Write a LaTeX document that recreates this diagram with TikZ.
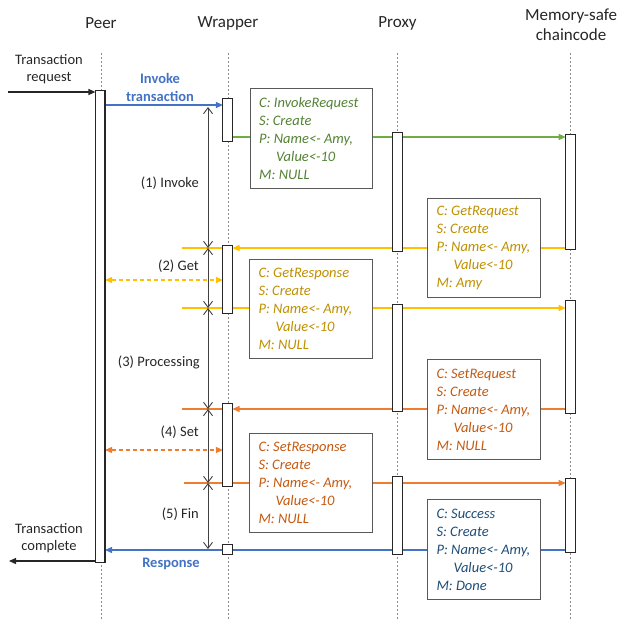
\documentclass[tikz,border=0pt]{standalone}
\usepackage{fontspec}
\setmainfont{Carlito}
\usetikzlibrary{arrows.meta,calc}
\definecolor{grnL}{HTML}{70AD47}
\definecolor{grnT}{HTML}{548235}
\definecolor{yelL}{HTML}{FFC000}
\definecolor{yelT}{HTML}{BF9000}
\definecolor{orL}{HTML}{ED7D31}
\definecolor{orT}{HTML}{C55A11}
\definecolor{bluL}{HTML}{4472C4}
\definecolor{bluT}{HTML}{1F4E79}
\begin{document}
\begin{tikzpicture}[x=1pt,y=-1pt,
  title/.style={font=\fontsize{17}{20}\selectfont, align=center, text=black!85, inner sep=0pt},
  lbl/.style={font=\fontsize{14.5}{17.5}\selectfont, align=center, text=black!85, inner sep=0pt},
  bluelbl/.style={font=\fontsize{14.5}{18}\selectfont\bfseries, align=center, text=bluL, inner sep=0pt},
  bar/.style={rectangle, draw=black!85, fill=white, line width=1.1pt, minimum width=8.5pt, inner sep=0pt},
  msgbox/.style={rectangle, draw=black!65, fill=white, line width=0.9pt, anchor=north west, inner sep=0pt},
  msgtext/.style={font=\fontsize{14.5}{18}\selectfont\itshape, align=left, anchor=west, inner sep=0pt},
  life/.style={draw=black!45, line width=0.6pt, dash pattern=on 2pt off 2pt},
  msg/.style={line width=1.3pt, -{Triangle[length=7pt,width=6pt]}},
  plainmsg/.style={line width=1.3pt},
  dmsg/.style={line width=1.3pt, dash pattern=on 4pt off 3pt, {Triangle[length=7pt,width=6pt]}-{Triangle[length=7pt,width=6pt]}},
  meas/.style={draw=black!75, line width=0.9pt, {Straight Barb[length=6pt,width=9pt]}-{Straight Barb[length=6pt,width=9pt]}}
]
\useasboundingbox (0,0) rectangle (617,620);

% titles
\node[title] (tPeer) at (101,23) {Peer};
\node[title] (tWrap) at (228,23) {Wrapper};
\node[title] (tProxy) at (397.5,23) {Proxy};
\node[title] (tMem) at (571,25) {Memory-safe\\chaincode};

% lifelines
\coordinate (peerTop) at (101,53);  \coordinate (peerBot) at (101,620);
\coordinate (wrapTop) at (228,53);  \coordinate (wrapBot) at (228,620);
\coordinate (proxTop) at (397.5,53); \coordinate (proxBot) at (397.5,620);
\coordinate (memTop) at (570.5,53); \coordinate (memBot) at (570.5,620);
\draw[life] (peerTop) -- (peerBot);
\draw[life] (wrapTop) -- (wrapBot);
\draw[life] (proxTop) -- (proxBot);
\draw[life] (memTop) -- (memBot);

% activation bars (defined first as nodes, drawn over lines later)
\path
  node[bar, minimum height=471pt] (P) at (100.2,326.5) {}
  node[bar, minimum height=42pt] (w1) at (227.7,120) {}
  node[bar, minimum height=67pt] (w2) at (227.7,279.5) {}
  node[bar, minimum height=82pt] (w3) at (227.7,445) {}
  node[bar, minimum height=9pt, minimum width=9pt] (w4) at (227.7,549.5) {}
  node[bar, minimum height=118pt] (x1) at (397.5,192) {}
  node[bar, minimum height=106pt] (x2) at (397.5,358) {}
  node[bar, minimum height=77pt] (x3) at (397.5,515.5) {}
  node[bar, minimum height=114pt] (m1) at (570.5,192) {}
  node[bar, minimum height=112pt] (m2) at (570.5,357) {}
  node[bar, minimum height=73pt] (m3) at (570.5,515.5) {};

% free ends
\coordinate (reqStart) at (8,92);
\coordinate (cmpEnd) at (9,561);
\coordinate (yA) at (182,248);
\coordinate (yB) at (182,308);
\coordinate (oA) at (182,409);
\coordinate (oB) at (184,483);

% messages
\draw[msg, black!85] (reqStart) -- (P.west |- reqStart);
\draw[msg, black!85] (P.west |- cmpEnd) -- (cmpEnd);
\draw[msg, bluL] (P.east |- 0,105) -- (w1.west |- 0,105);
\draw[msg, grnL] (w1.east |- 0,137) -- (m1.west |- 0,137);
\draw[msg, yelL] (m1.west |- yA) -- (w2.east |- yA);
\draw[plainmsg, yelL] (yA) -- (w2.west |- yA);
\draw[dmsg, yelL] (P.east |- 0,280) -- (w2.west |- 0,280);
\draw[msg, yelL] (yB) -- (m2.west |- yB);
\draw[msg, orL] (m2.west |- oA) -- (w3.east |- oA);
\draw[plainmsg, orL] (oA) -- (w3.west |- oA);
\draw[dmsg, orL] (P.east |- 0,450) -- (w3.west |- 0,450);
\draw[msg, orL] (oB) -- (m3.west |- oB);
\draw[msg, bluL] (m3.west |- 0,550) -- (P.east |- 0,550);

% bars redrawn on top
\foreach \b in {P,w1,w2,w3,w4,x1,x2,x3,m1,m2,m3}
  \draw[draw=black!85, fill=white, line width=1.1pt] (\b.north west) rectangle (\b.south east);

% measurement arrows
\coordinate (v0) at (208,107);
\coordinate (v1) at (208,248);
\coordinate (v2) at (208,308);
\coordinate (v3) at (208,409);
\coordinate (v4) at (208,483);
\coordinate (v5) at (208,549);
\draw[meas] (v0) -- (v1);
\draw[meas] (v1) -- (v2);
\draw[meas] (v2) -- (v3);
\draw[meas] (v3) -- (v4);
\draw[meas] (v4) -- (v5);

% step labels
\node[lbl, anchor=east] (l1) at (199,183) {(1) Invoke};
\node[lbl, anchor=east] (l2) at (199,266) {(2) Get};
\node[lbl, anchor=east] (l3) at (200,362) {(3) Processing};
\node[lbl, anchor=east] (l4) at (199,432) {(4) Set};
\node[lbl, anchor=east] (l5) at (199,514) {(5) Fin};

% side labels
\node[lbl] (treq) at (49,69) {Transaction\\request};
\node[lbl] (tcmp) at (49,538) {Transaction\\complete};
\node[bluelbl] (inv) at (160,87) {Invoke\\transaction};
\node[bluelbl] (resp) at (171,564) {Response};

% message boxes
\node[msgbox, minimum width=122pt, minimum height=100pt] (b1) at (250,88) {};
\node[msgtext, text=grnT] (bt1) at ([xshift=9pt]b1.west) {C: InvokeRequest\\S: Create\\P: Name<- Amy,\\\hspace*{17pt}Value<-10\\M: NULL};

\node[msgbox, minimum width=113pt, minimum height=99pt] (b2) at (427.3,198) {};
\node[msgtext, text=yelT] (bt2) at ([xshift=9pt]b2.west) {C: GetRequest\\S: Create\\P: Name<- Amy,\\\hspace*{17pt}Value<-10\\M: Amy};

\node[msgbox, minimum width=123pt, minimum height=99pt] (b3) at (249.3,259) {};
\node[msgtext, text=yelT] (bt3) at ([xshift=9pt]b3.west) {C: GetResponse\\S: Create\\P: Name<- Amy,\\\hspace*{17pt}Value<-10\\M: NULL};

\node[msgbox, minimum width=113pt, minimum height=100pt] (b4) at (427.3,359) {};
\node[msgtext, text=orT] (bt4) at ([xshift=9pt]b4.west) {C: SetRequest\\S: Create\\P: Name<- Amy,\\\hspace*{17pt}Value<-10\\M: NULL};

\node[msgbox, minimum width=123pt, minimum height=99pt] (b5) at (249.3,433) {};
\node[msgtext, text=orT] (bt5) at ([xshift=9pt]b5.west) {C: SetResponse\\S: Create\\P: Name<- Amy,\\\hspace*{17pt}Value<-10\\M: NULL};

\node[msgbox, minimum width=112.5pt, minimum height=100pt] (b6) at (427.3,499) {};
\node[msgtext, text=bluT] (bt6) at ([xshift=9pt]b6.west) {C: Success\\S: Create\\P: Name<- Amy,\\\hspace*{17pt}Value<-10\\M: Done};
\end{tikzpicture}
\end{document}
